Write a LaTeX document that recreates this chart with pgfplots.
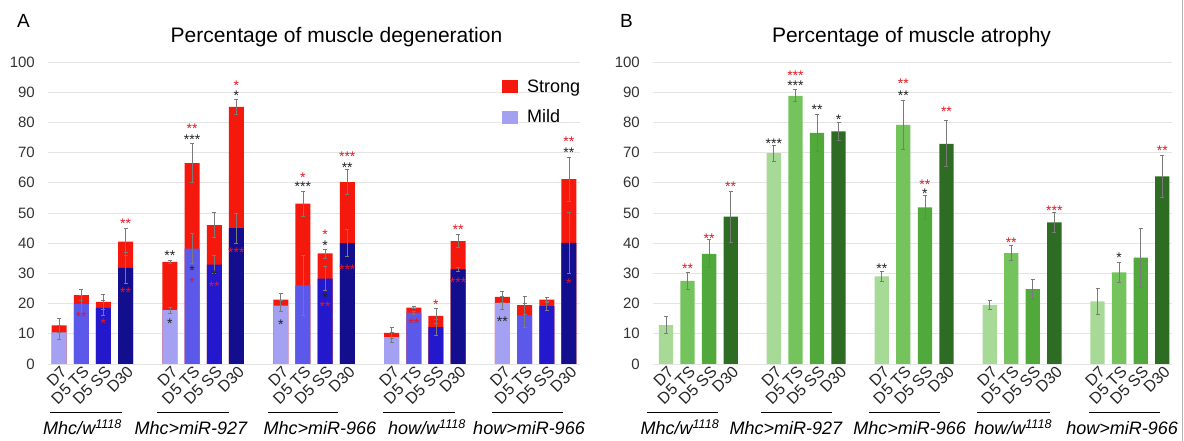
\documentclass[border=0pt]{standalone}
\usepackage{fontspec}
\setmainfont{Liberation Sans}
\usepackage{pgfplots}
\pgfplotsset{compat=1.18}
\usepackage{pgfplotstable}

\definecolor{strong}{HTML}{F5180C}
\definecolor{mildA}{HTML}{A4A1F2}
\definecolor{mildB}{HTML}{5C58EA}
\definecolor{mildC}{HTML}{2418CC}
\definecolor{mildD}{HTML}{130E8E}
\definecolor{grA}{HTML}{A8DA97}
\definecolor{grB}{HTML}{75C35C}
\definecolor{grC}{HTML}{51A83B}
\definecolor{grD}{HTML}{2E6C23}
\definecolor{errc}{HTML}{7A7A7A}
\definecolor{gridc}{HTML}{E4E4E4}
\definecolor{sred}{HTML}{E8161E}
\definecolor{sblk}{HTML}{222222}

% degeneration: mild part, its error, total (mild + strong), its error
\pgfplotstableread{
x mild merr total terr
0 10.5 2.2 12.8 2.2
5 17.8 1.0 33.8 0.4
10 19.3 1.9 21.3 2.0
15 8.9 1.7 10.3 1.7
20 20.2 2.2 22.2 1.7
}\degA
\pgfplotstableread{
x mild merr total terr
1 19.8 3.0 22.8 1.9
6 38.2 5.0 66.5 6.4
11 26.0 10.0 53.1 4.1
16 17.0 0.5 18.7 0.3
21 16.1 3.9 19.5 3.0
}\degB
\pgfplotstableread{
x mild merr total terr
2 18.6 2.5 20.6 2.6
7 32.9 3.0 46.0 4.1
12 28.3 4.0 36.6 1.5
17 12.2 2.6 15.9 2.4
22 19.2 1.5 21.3 0.9
}\degC
\pgfplotstableread{
x mild merr total terr
3 31.8 5.0 40.5 4.5
8 45.0 5.0 85.1 2.5
13 40.0 4.5 60.2 4.2
18 31.3 0.8 40.7 2.1
23 40.1 10.0 61.2 7.3
}\degD

% atrophy
\pgfplotstableread{
x val err
0 12.9 2.8
5 69.8 2.6
10 29.0 1.6
15 19.6 1.4
20 20.7 4.3
}\atrA
\pgfplotstableread{
x val err
1 27.5 2.8
6 88.8 2.0
11 79.2 8.0
16 36.7 2.5
21 30.3 3.4
}\atrB
\pgfplotstableread{
x val err
2 36.5 4.6
7 76.5 6.0
12 51.9 3.9
17 24.8 3.3
22 35.2 9.8
}\atrC
\pgfplotstableread{
x val err
3 48.8 8.5
8 77.0 3.1
13 72.9 7.6
18 46.9 3.4
23 62.1 7.0
}\atrD

\pgfplotsset{
  panel/.style={
    scale only axis, height=302pt, ymin=0, ymax=100,
    ytick={0,10,...,100},
    ymajorgrids, grid style={gridc, line width=0.8pt},
    axis line style={draw=none},
    major tick length=0pt,
    xtick={0,1,2,3,5,6,7,8,10,11,12,13,15,16,17,18,20,21,22,23},
    xticklabels={D7,D5 TS,D5 SS,D30,D7,D5 TS,D5 SS,D30,D7,D5 TS,D5 SS,D30,D7,D5 TS,D5 SS,D30,D7,D5 TS,D5 SS,D30},
    xticklabel style={rotate=45, anchor=east, inner sep=0pt, font=\fontsize{16}{16}\selectfont, text=black!85, yshift=-7pt},
    yticklabel style={font=\fontsize{15}{15}\selectfont, text=black!80, inner sep=0pt, xshift=-13pt},
    /pgf/number format/assume math mode=true,
    ybar, bar shift=0pt,
    clip=false, anchor=south west,
  },
  errs/.style={draw=none, fill=none, forget plot,
    error bars/.cd, y dir=both, y explicit,
    error bar style={errc, line width=0.8pt},
    error mark options={errc, line width=0.8pt, mark size=2pt, rotate=90}},
}
\newcommand{\sg}[4]{\node[text=#3, font=\fontsize{14}{14}\selectfont, inner sep=0pt, yshift=-3pt] at (axis cs:#1,#2) {#4};}
\newcommand{\grp}[4]{%
  \draw[black, line width=1.6pt] (axis cs:#1,-16) -- (axis cs:#2,-16);
  \node[anchor=base, inner sep=0pt, font=\fontsize{18}{20}\selectfont\itshape] at (axis cs:#3,-23.5) {#4};}

\begin{document}
\begin{tikzpicture}
\path[use as bounding box] (0pt,0pt) rectangle (1184pt,441pt);

\node[anchor=base west, inner sep=0pt, font=\fontsize{19}{20}\selectfont] at (17pt,413pt) {A};
\node[anchor=base west, inner sep=0pt, font=\fontsize{19}{20}\selectfont] at (620pt,413pt) {B};
\node[anchor=base, inner sep=0pt, font=\fontsize{21}{24}\selectfont] at (336.5pt,398pt) {Percentage of muscle degeneration};
\node[anchor=base, inner sep=0pt, font=\fontsize{21}{24}\selectfont] at (911.5pt,398pt) {Percentage of muscle atrophy};
\draw[gray!60, line width=1pt] (1182pt,0pt) -- (1182pt,441pt);

% ---------- A ----------
\begin{axis}[panel, at={(48pt,77pt)}, width=532pt, xmin=-0.5, xmax=23.5, bar width=15pt,
  legend image code/.code={\fill[#1] (0pt,-6.5pt) rectangle (16pt,6.5pt); \path (25pt,0pt);},
  legend style={at={(axis cs:19.98,94.2)}, anchor=north west, draw=none, fill=none,
    font=\fontsize{18}{20}\selectfont, row sep=16pt, inner sep=0pt, nodes={inner sep=0pt}},
  legend cell align=left]
\addlegendimage{fill=strong, draw=none}
\addlegendentry{Strong}
\addlegendimage{fill=mildA, draw=none}
\addlegendentry{Mild}
\addplot[fill=strong, draw=none, forget plot] table[x=x, y=total] {\degA};
\addplot[fill=strong, draw=none, forget plot] table[x=x, y=total] {\degB};
\addplot[fill=strong, draw=none, forget plot] table[x=x, y=total] {\degC};
\addplot[fill=strong, draw=none, forget plot] table[x=x, y=total] {\degD};
\addplot[fill=mildA, draw=none, forget plot] table[x=x, y=mild] {\degA};
\addplot[fill=mildB, draw=none, forget plot] table[x=x, y=mild] {\degB};
\addplot[fill=mildC, draw=none, forget plot] table[x=x, y=mild] {\degC};
\addplot[fill=mildD, draw=none, forget plot] table[x=x, y=mild] {\degD};
\addplot[errs] table[x=x, y=mild, y error=merr] {\degA};
\addplot[errs] table[x=x, y=mild, y error=merr] {\degB};
\addplot[errs] table[x=x, y=mild, y error=merr] {\degC};
\addplot[errs] table[x=x, y=mild, y error=merr] {\degD};
\addplot[errs] table[x=x, y=total, y error=terr] {\degA};
\addplot[errs] table[x=x, y=total, y error=terr] {\degB};
\addplot[errs] table[x=x, y=total, y error=terr] {\degC};
\addplot[errs] table[x=x, y=total, y error=terr] {\degD};

\sg{1}{16.6}{sred}{**}
\sg{2}{14.2}{sred}{*}
\sg{3}{47.5}{sred}{**}
\sg{3}{24.7}{sred}{**}
\sg{5}{36.8}{sblk}{**}
\sg{5}{14.4}{sblk}{*}
\sg{6}{78.9}{sred}{**}
\sg{6}{75.4}{sblk}{***}
\sg{6}{31.9}{sblk}{*}
\sg{6}{27.9}{sred}{*}
\sg{7}{30.2}{sblk}{*}
\sg{7}{26.6}{sred}{**}
\sg{8}{93.3}{sred}{*}
\sg{8}{90.0}{sblk}{*}
\sg{8}{37.7}{sred}{***}
\sg{10}{13.9}{sblk}{*}
\sg{11}{62.6}{sred}{*}
\sg{11}{59.6}{sblk}{***}
\sg{12}{43.8}{sred}{*}
\sg{12}{40.1}{sblk}{*}
\sg{12}{22.9}{sblk}{*}
\sg{12}{20.0}{sred}{**}
\sg{13}{69.5}{sred}{***}
\sg{13}{66.0}{sblk}{**}
\sg{13}{32.2}{sred}{***}
\sg{16}{14.4}{sred}{**}
\sg{17}{20.7}{sred}{*}
\sg{18}{45.5}{sred}{**}
\sg{18}{28.0}{sred}{***}
\sg{20}{15.0}{sblk}{**}
\sg{23}{74.5}{sred}{**}
\sg{23}{71.0}{sblk}{**}
\sg{23}{27.5}{sred}{*}

\grp{-0.41}{2.84}{1.06}{Mhc/w\textsuperscript{1118}}
\grp{4.42}{7.67}{5.95}{Mhc>miR-927}
\grp{9.43}{12.58}{11.77}{Mhc>miR-966}
\grp{14.6}{17.86}{16.6}{how/w\textsuperscript{1118}}
\grp{19.53}{22.73}{21.2}{how>miR-966}
\end{axis}

% ---------- B ----------
\begin{axis}[panel, at={(653pt,77pt)}, width=519pt, xmin=-0.6, xmax=23.45, bar width=14.3pt]
\addplot[fill=grA, draw=none, forget plot] table[x=x, y=val] {\atrA};
\addplot[fill=grB, draw=none, forget plot] table[x=x, y=val] {\atrB};
\addplot[fill=grC, draw=none, forget plot] table[x=x, y=val] {\atrC};
\addplot[fill=grD, draw=none, forget plot] table[x=x, y=val] {\atrD};
\addplot[errs] table[x=x, y=val, y error=err] {\atrA};
\addplot[errs] table[x=x, y=val, y error=err] {\atrB};
\addplot[errs] table[x=x, y=val, y error=err] {\atrC};
\addplot[errs] table[x=x, y=val, y error=err] {\atrD};

\sg{1}{32.6}{sred}{**}
\sg{2}{42.4}{sred}{**}
\sg{3}{59.7}{sred}{**}
\sg{5}{73.8}{sblk}{***}
\sg{6}{96.6}{sred}{***}
\sg{6}{93.0}{sblk}{***}
\sg{7}{85.1}{sblk}{**}
\sg{8}{82.0}{sblk}{*}
\sg{10}{32.5}{sblk}{**}
\sg{11}{93.8}{sred}{**}
\sg{11}{89.9}{sblk}{**}
\sg{12}{60.4}{sred}{**}
\sg{12}{57.5}{sblk}{*}
\sg{13}{84.4}{sred}{**}
\sg{16}{41.3}{sred}{**}
\sg{18}{51.8}{sred}{***}
\sg{21}{36.1}{sblk}{*}
\sg{23}{71.7}{sred}{**}

\grp{-0.88}{2.41}{0.65}{Mhc/w\textsuperscript{1118}}
\grp{4.4}{7.7}{5.56}{Mhc>miR-927}
\grp{9.4}{12.7}{11.29}{Mhc>miR-966}
\grp{14.4}{17.8}{16.09}{how/w\textsuperscript{1118}}
\grp{19.6}{22.9}{21.14}{how>miR-966}
\end{axis}
\end{tikzpicture}
\end{document}
